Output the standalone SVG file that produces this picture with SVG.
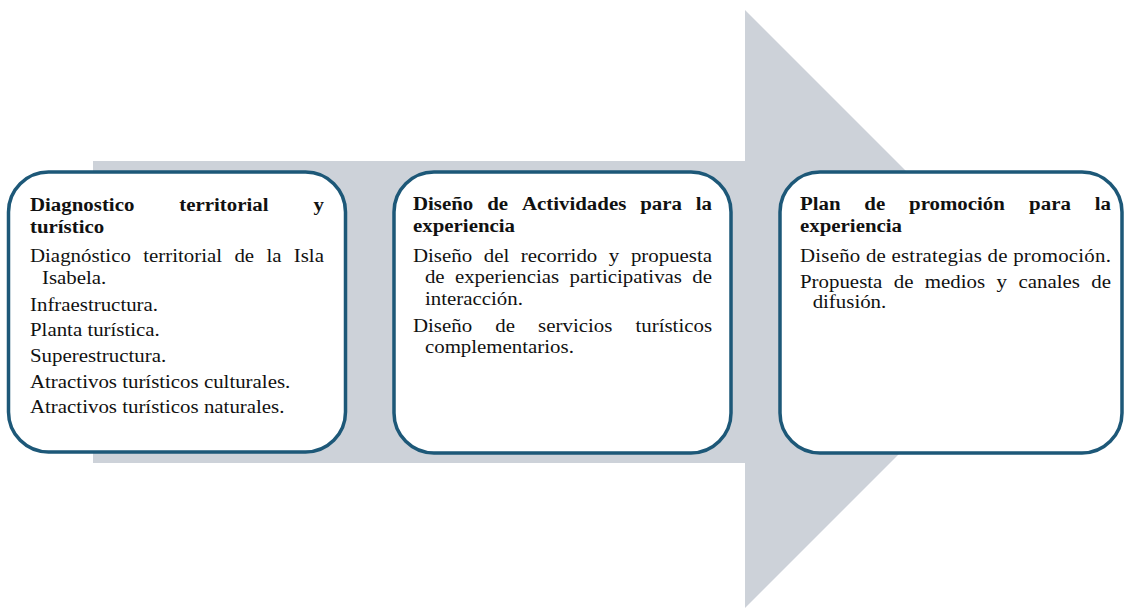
<svg xmlns="http://www.w3.org/2000/svg" width="1124" height="608" viewBox="0 0 1124 608">
<style>
.box{fill:#ffffff;stroke:#1d5878;stroke-width:3.5}
.t text{font-family:'Liberation Serif','Times New Roman','DejaVu Serif',serif;font-size:18px;fill:#111111}
.b{font-weight:bold}
.e{text-anchor:end}
</style>
<g id="connectors">
<polygon points="93,161 745,161 745,10 1044,309 745,608 745,463 93,463" fill="#cdd2d9"/>
</g>
<g id="node1">
<rect class="box" x="8.5" y="172" width="337" height="280" rx="40" ry="40"/>
<g class="t" transform="translate(30,0) scale(1.16,1)">
<text class="b" y="211"><tspan x="0">Diagnostico</tspan><tspan x="128.7">territorial</tspan><tspan x="253.4" class="e">y</tspan></text>
<text class="b" x="0" y="233">turístico</text>
<text y="262"><tspan x="0">Diagnóstico</tspan><tspan x="97.6">territorial</tspan><tspan x="176.2">de</tspan><tspan x="203.8">la</tspan><tspan x="253.4" class="e">Isla</tspan></text>
<text x="10.3" y="284">Isabela.</text>
<text x="0" y="311">Infraestructura.</text>
<text x="0" y="336">Planta turística.</text>
<text x="0" y="362">Superestructura.</text>
<text x="0" y="388">Atractivos turísticos culturales.</text>
<text x="0" y="413">Atractivos turísticos naturales.</text>
</g>
</g>
<g id="node2">
<rect class="box" x="394" y="172" width="337" height="281" rx="40" ry="40"/>
<g class="t" transform="translate(413,0) scale(1.16,1)">
<text class="b" y="210"><tspan x="0">Diseño</tspan><tspan x="63.95">de</tspan><tspan x="93.9">Actividades</tspan><tspan x="195.85">para</tspan><tspan x="257.8" class="e">la</tspan></text>
<text class="b" x="0" y="232">experiencia</text>
<text y="262"><tspan x="0">Diseño</tspan><tspan x="60.96">del</tspan><tspan x="92.92">recorrido</tspan><tspan x="168.85">y</tspan><tspan x="257.8" class="e">propuesta</tspan></text>
<text y="283"><tspan x="10.3">de</tspan><tspan x="36.14">experiencias</tspan><tspan x="134.97">participativas</tspan><tspan x="257.8" class="e">de</tspan></text>
<text x="10.3" y="305">interacción.</text>
<text y="332"><tspan x="0">Diseño</tspan><tspan x="70.94">de</tspan><tspan x="107.87">servicios</tspan><tspan x="257.8" class="e">turísticos</tspan></text>
<text x="10.3" y="353">complementarios.</text>
</g>
</g>
<g id="node3">
<rect class="box" x="780" y="172" width="342" height="281" rx="40" ry="40"/>
<g class="t" transform="translate(800,0) scale(1.16,1)">
<text class="b" y="210"><tspan x="0">Plan</tspan><tspan x="55.5">de</tspan><tspan x="94">promoción</tspan><tspan x="197.5">para</tspan><tspan x="268.1" class="e">la</tspan></text>
<text class="b" x="0" y="232">experiencia</text>
<text x="0" y="262" textLength="268" lengthAdjust="spacing">Diseño de estrategias de promoción.</text>
<text y="288"><tspan x="0">Propuesta</tspan><tspan x="80.83">de</tspan><tspan x="107.66">medios</tspan><tspan x="169.49">y</tspan><tspan x="188.32">canales</tspan><tspan x="268.1" class="e">de</tspan></text>
<text x="10.9" y="308">difusión.</text>
</g>
</g>
</svg>
